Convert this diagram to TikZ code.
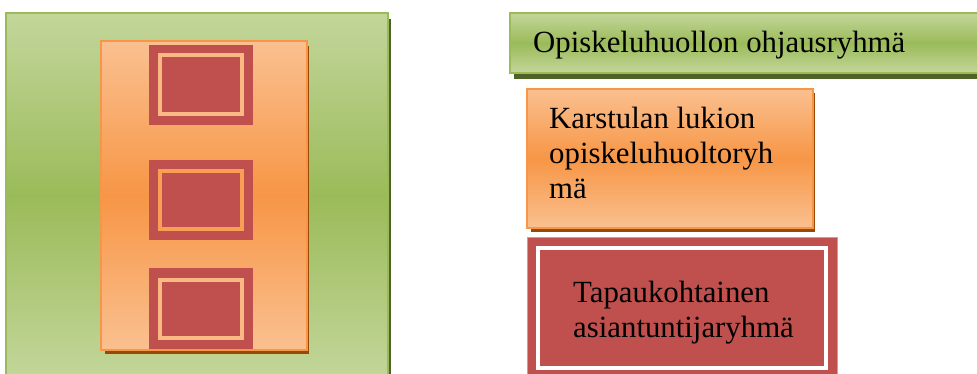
\documentclass[tikz,border=0pt]{standalone}
\usepackage{fontspec}
\setmainfont{Liberation Serif}
\newfontfamily\boxfont{Liberation Serif}
\definecolor{gLight}{HTML}{C3D69B}
\definecolor{gMid}{HTML}{9BBB59}
\definecolor{gDark}{HTML}{4F6228}
\definecolor{oLight}{HTML}{FAC090}
\definecolor{oMid}{HTML}{F79646}
\definecolor{oDark}{HTML}{984807}
\definecolor{rMid}{HTML}{C0504D}
\definecolor{rEdge}{HTML}{D99694}
\definecolor{fLight}{HTML}{FAB982}
\definecolor{fMid}{HTML}{F89E55}
\tikzset{
  greenbox/.style={draw=gMid, line width=1.5pt, top color=gLight, bottom color=gLight, middle color=gMid},
  orangebox/.style={draw=oMid, line width=1.5pt, top color=oLight, bottom color=oLight, middle color=oMid},
  gshadow/.style={fill=gDark, draw=none},
  oshadow/.style={fill=oDark, draw=none},
  redsq/.style={fill=rMid, draw=none},
  frameline/.style={draw=#1, line width=4pt},
  label/.style={anchor=base west, inner sep=0pt, align=left, font=\boxfont\fontsize{30.8}{35}\selectfont, text=black}
}
\begin{document}
\begin{tikzpicture}[x=1pt, y=-1pt]
\useasboundingbox (0,0) rectangle (977,374);
\clip (0,0) rectangle (977,374);
% left big green square
\fill[gshadow] (10,19) rectangle (391,390);
\path[greenbox] (6,13) rectangle (388,380);
% orange column
\fill[oshadow] (105,46) rectangle (309,354);
\path[orangebox] (101,41) rectangle (307,350);
% red squares with frames
\fill[redsq] (149,45) rectangle (253,125);
\draw[frameline=fLight] (160,55.5) rectangle (241.5,114);
\fill[redsq] (149,160) rectangle (253,240);
\draw[frameline=fMid] (160,171) rectangle (241.5,229);
\fill[redsq] (149,268) rectangle (253,349);
\draw[frameline=fLight] (160,279.6) rectangle (241.5,337.7);
% right: green bar
\fill[gshadow] (514,18) rectangle (990,79);
\path[greenbox] (510,13) rectangle (990,73);
\node[label] (ohjaus) at (533,53) {Opiskeluhuollon ohjausryhmä};
% orange box
\fill[oshadow] (531,93) rectangle (815,232);
\path[orangebox] (527,89) rectangle (813,228);
\node[label] (lukio) at (549,199) {Karstulan lukion\\opiskeluhuoltoryh\\mä};
% red box
\path[fill=rMid, draw=rEdge, line width=1pt] (527,237) rectangle (837,390);
\draw[frameline=white] (538,248) rectangle (826,367.5);
\node[label] (tapaus) at (573,337) {Tapaukohtainen\\asiantuntijaryhmä};
\end{tikzpicture}
\end{document}
